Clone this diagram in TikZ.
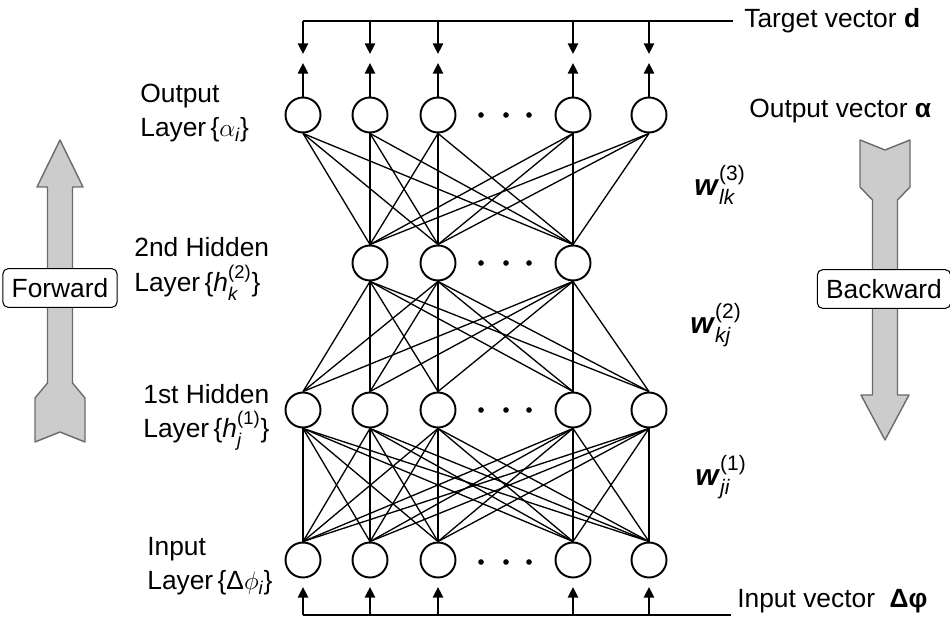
\documentclass[tikz,border=0pt]{standalone}
\usepackage{amsmath,amssymb}
\usepackage{fontspec}
\setmainfont{Liberation Sans}
\usepackage{xcolor}
\usetikzlibrary{arrows.meta,positioning,calc}

\definecolor{shaftgray}{gray}{0.80}
\definecolor{rimgray}{gray}{0.42}

\begin{document}
\begin{tikzpicture}[x=0.02cm, y=-0.02cm,
    neuron/.style={circle, draw, line width=1.1pt, minimum size=0.7cm, inner sep=0pt, fill=white},
    link/.style={line width=0.75pt},
    feed/.style={line width=1.1pt, -{Triangle[length=6pt, width=5.8pt]}},
    bus/.style={line width=0.9pt},
    lbl/.style={align=left, anchor=west, inner sep=0pt, font=\fontsize{15}{19.5}\selectfont},
    wlbl/.style={anchor=west, inner sep=0pt, font=\fontsize{17}{19}\selectfont},
    tag/.style={rectangle, draw, rounded corners=3pt, fill=white, line width=0.6pt, inner xsep=5pt, inner ysep=5.5pt, font=\fontsize{15}{17}\selectfont},
    bigarrow/.style={draw=rimgray, fill=shaftgray, line width=0.8pt, line join=round}
]
    \useasboundingbox (0,0) rectangle (950,621);

    % Neurons
    \foreach \x [count=\i] in {303,370,438,573,649} {
        \node[neuron] (out\i) at (\x,115) {};
        \node[neuron] (hidA\i) at (\x,410) {};
        \node[neuron] (inp\i) at (\x,560) {};
    }
    \foreach \x [count=\i] in {370,438,573}
        \node[neuron] (hidB\i) at (\x,263) {};

    % Dots between columns
    \foreach \y in {115,263,410,562}
        \foreach \d in {481,506,529}
            \fill (\d,\y) circle[radius=1.6pt];

    % Weights between layers
    \foreach \i in {1,...,5}
        \foreach \j in {1,2,3}
            \draw[link] (out\i.south) -- (hidB\j.north);
    \foreach \i in {1,2,3}
        \foreach \j in {1,...,5}
            \draw[link] (hidB\i.south) -- (hidA\j.north);
    \foreach \i in {1,...,5}
        \foreach \j in {1,...,5}
            \draw[link] (hidA\i.south) -- (inp\j.north);

    % Target and input buses
    \node[lbl] (target) at (744,21) {Target vector \textbf{d}};
    \node[lbl] (outvec) at (749,111) {Output vector \textbf{α}};
    \node[lbl] (invec) at (737,601) {Input vector\ \ \textbf{Δφ}};
    \coordinate (tend) at (733,21);
    \coordinate (iend) at (731,615);
    \draw[bus] (out1 |- tend) -- (tend);
    \draw[bus] (inp1 |- iend) -- (iend);
    \foreach \i in {1,...,5} {
        \draw[feed] (out\i |- tend) -- (out\i |- 0,54);
        \draw[feed] (out\i.north) -- (out\i |- 0,63);
        \draw[feed] (inp\i |- iend) -- (inp\i |- 0,587);
    }

    % Layer names
    \node[lbl] (lout) at (140,113) {Output\\Layer\,\{$\alpha_{\text{\itshape i}}$\}};
    \node[lbl] (lhidB) at (134,269) {2nd Hidden\\Layer\,\{\textit{h}$^{\text{(2)}}_{\text{\itshape k}}$\}};
    \node[lbl] (lhidA) at (143,417) {1st Hidden\\Layer\,\{\textit{h}$^{\text{(1)}}_{\text{\itshape j}}$\}};
    \node[lbl] (linp) at (147,566) {Input\\Layer\,\{Δ$\phi_{\text{\itshape i}}$\}};

    % Weight names
    \node[wlbl] (w3) at (694,185) {\textbf{\textit{w}}$^{\text{(3)}}_{\text{\itshape lk}}$};
    \node[wlbl] (w2) at (690,325) {\textbf{\textit{w}}$^{\text{(2)}}_{\text{\itshape kj}}$};
    \node[wlbl] (w1) at (695,477) {\textbf{\textit{w}}$^{\text{(1)}}_{\text{\itshape ji}}$};

    % Forward arrow
    \draw[bigarrow] (60,140) -- (83,187) -- (72.5,187) -- (72.5,383) -- (85,398) -- (85,442)
        -- (60,432) -- (35,442) -- (35,398) -- (47.5,383) -- (47.5,187) -- (37,187) -- cycle;
    \node[tag] (fwd) at (60,288) {Forward};

    % Backward arrow
    \draw[bigarrow] (860,140) -- (885,150) -- (910,140) -- (910,187) -- (897.5,200) -- (897.5,395)
        -- (909,395) -- (885,440) -- (861,395) -- (872.5,395) -- (872.5,200) -- (860,187) -- cycle;
    \node[tag] (bwd) at (884,289) {Backward};
\end{tikzpicture}
\end{document}
